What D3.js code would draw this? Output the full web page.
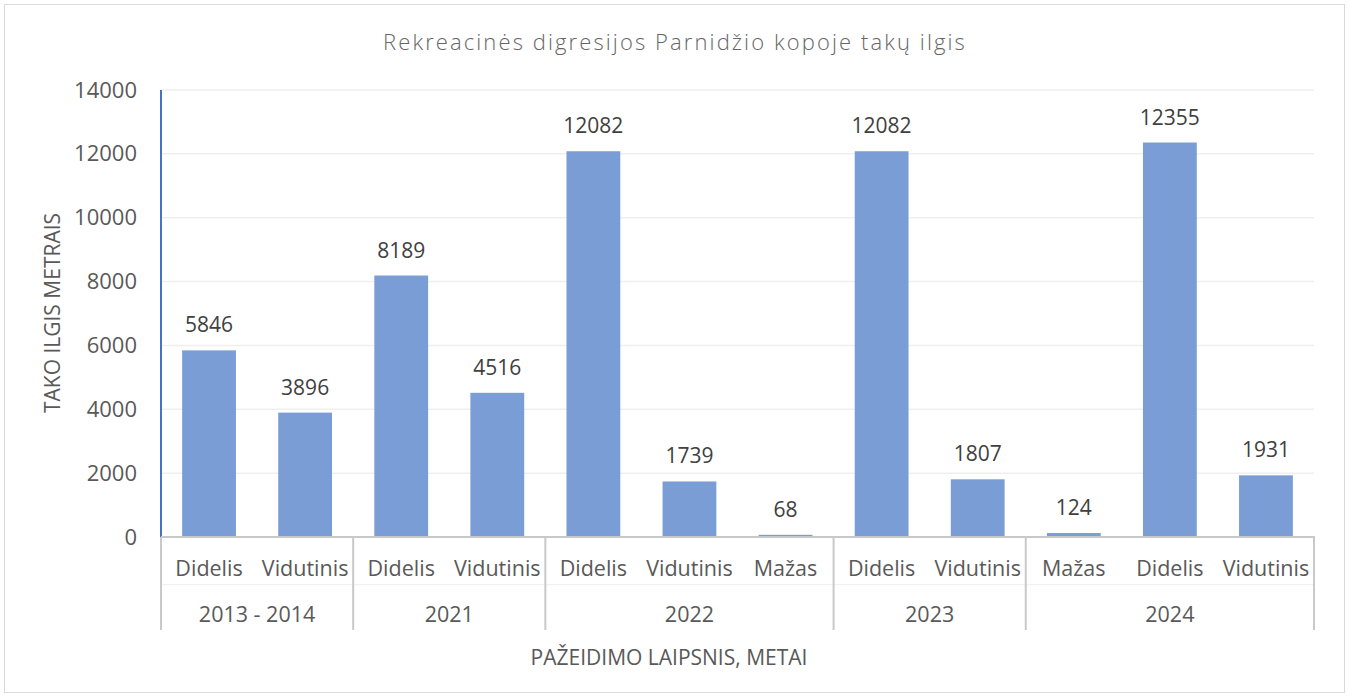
<!DOCTYPE html>
<html>
<head>
<meta charset="utf-8">
<script src="https://cdn.jsdelivr.net/npm/d3@7"></script>
<style>
  body { margin: 0; background: #fff; }
  svg { display: block; font-family: "Open Sans", "Noto Sans", sans-serif; }
</style>
</head>
<body>
<svg id="chart" width="1349" height="697"></svg>
<script>
// Damage degree per category and its year group
const levels = ["Didelis", "Vidutinis", "Didelis", "Vidutinis", "Didelis", "Vidutinis", "Mažas", "Didelis", "Vidutinis", "Mažas", "Didelis", "Vidutinis"];
const years = ["2013 - 2014", "2013 - 2014", "2021", "2021", "2022", "2022", "2022", "2023", "2023", "2024", "2024", "2024"];
const lengths = [5846, 3896, 8189, 4516, 12082, 1739, 68, 12082, 1807, 124, 12355, 1931];
const yTicks = [0, 2000, 4000, 6000, 8000, 10000, 12000, 14000];
const title = "Rekreacinės digresijos Parnidžio kopoje takų ilgis";
const yTitle = "TAKO ILGIS METRAIS";
const xTitle = "PAŽEIDIMO LAIPSNIS, METAI";

const svg = d3.select("#chart");
const W = 1349, H = 697;
const plotLeft = 161, plotRight = 1314, plotTop = 90, plotBottom = 537;
const levelRowY = 568, yearRowY = 614, boxBottom = 630;

// chart frame
svg.append("rect").attr("x", 4.5).attr("y", 4.5).attr("width", W - 9).attr("height", H - 9)
  .attr("fill", "#fff").attr("stroke", "#d9d9d9").attr("stroke-width", 1);

const idx = lengths.map((_, i) => i);
const x = d3.scaleBand().domain(idx).range([plotLeft, plotRight]).paddingInner(0.44).paddingOuter(0.22);
const xCat = d3.scaleBand().domain(idx).range([plotLeft, plotRight]);
const y = d3.scaleLinear().domain([0, 14000]).range([plotBottom, plotTop]);

// gridlines
svg.append("g").selectAll("line").data(yTicks.filter(t => t > 0)).join("line")
  .attr("x1", plotLeft).attr("x2", plotRight)
  .attr("y1", d => y(d)).attr("y2", d => y(d))
  .attr("stroke", "#efefef").attr("stroke-width", 1.5);

// y axis labels
const yAxis = d3.axisLeft(y).tickValues(yTicks).tickSize(0).tickPadding(24).tickFormat(d3.format("d"));
const yG = svg.append("g").attr("transform", `translate(${plotLeft},0)`).call(yAxis);
yG.select(".domain").remove();
yG.selectAll("text").attr("font-size", 22).attr("fill", "#595959")
  .attr("font-family", "'Open Sans', sans-serif");

// bars
svg.append("g").selectAll("rect").data(lengths).join("rect")
  .attr("x", (d, i) => x(i)).attr("width", x.bandwidth())
  .attr("y", d => y(d)).attr("height", d => plotBottom - y(d))
  .attr("fill", "#7b9dd6");

// value labels
svg.append("g").selectAll("text").data(lengths).join("text")
  .attr("x", (d, i) => x(i) + x.bandwidth() / 2)
  .attr("y", d => y(d) - 18)
  .attr("text-anchor", "middle").attr("font-size", 21).attr("fill", "#404040")
  .text(d => d);

// y axis line
svg.append("line").attr("x1", plotLeft).attr("x2", plotLeft).attr("y1", plotTop).attr("y2", plotBottom)
  .attr("stroke", "#4472c4").attr("stroke-width", 2);

// multi-level category axis
const groups = [];
years.forEach((yr, i) => {
  const g = groups[groups.length - 1];
  if (g && g.name === yr) g.end = i; else groups.push({ name: yr, start: i, end: i });
});
const ax = svg.append("g");
ax.append("line").attr("x1", plotLeft).attr("x2", plotRight + 1).attr("y1", plotBottom).attr("y2", plotBottom)
  .attr("stroke", "#c9c9c9").attr("stroke-width", 2);
ax.append("line").attr("x1", plotLeft).attr("x2", plotRight).attr("y1", 584.5).attr("y2", 584.5)
  .attr("stroke", "#f0f0f0").attr("stroke-width", 1);
const bounds = [plotLeft].concat(groups.map(g => xCat(g.end) + xCat.bandwidth()));
ax.selectAll("line.sep").data(bounds).join("line").attr("class", "sep")
  .attr("x1", d => d).attr("x2", d => d).attr("y1", plotBottom).attr("y2", boxBottom)
  .attr("stroke", "#c9c9c9").attr("stroke-width", 2);
ax.selectAll("text.lvl").data(levels).join("text").attr("class", "lvl")
  .attr("x", (d, i) => xCat(i) + xCat.bandwidth() / 2).attr("y", levelRowY + 8)
  .attr("text-anchor", "middle").attr("font-size", 21.5).attr("fill", "#595959")
  .text(d => d);
ax.selectAll("text.yr").data(groups).join("text").attr("class", "yr")
  .attr("x", g => (xCat(g.start) + xCat(g.end) + xCat.bandwidth()) / 2).attr("y", yearRowY + 8)
  .attr("text-anchor", "middle").attr("font-size", 21.5).attr("fill", "#595959")
  .text(g => g.name);

// titles
svg.append("text").attr("x", 675).attr("y", 50).attr("text-anchor", "middle")
  .attr("font-size", 22).attr("font-weight", 300).attr("fill", "#666666").attr("letter-spacing", 2.1)
  .text(title);
svg.append("text").attr("transform", "translate(60,313) rotate(-90)")
  .attr("text-anchor", "middle").attr("font-size", 21).attr("fill", "#595959")
  .text(yTitle);
svg.append("text").attr("x", 669).attr("y", 665).attr("text-anchor", "middle")
  .attr("font-size", 21).attr("fill", "#595959")
  .text(xTitle);
</script>
</body>
</html>
